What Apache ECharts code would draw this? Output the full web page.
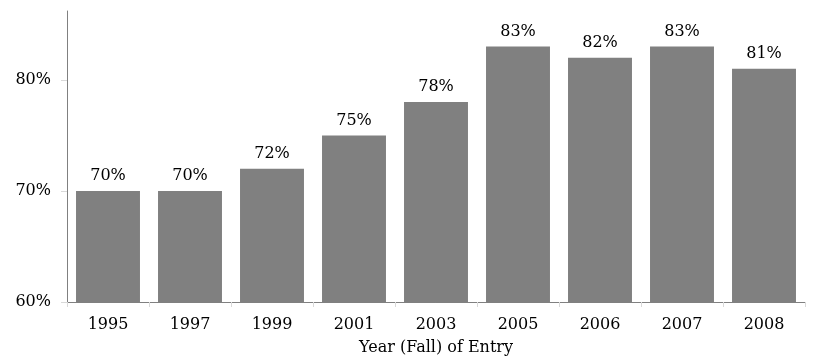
<!DOCTYPE html>
<html>
<head>
<meta charset="utf-8">
<script src="https://cdn.jsdelivr.net/npm/echarts@6/dist/echarts.min.js"></script>
<style>
	html, body { margin: 0; padding: 0; background: #fff; }
	#chart { width: 826px; height: 358px; }
</style>
</head>
<body>
<div id="chart"></div>
<script>
	var years = ['1995', '1997', '1999', '2001', '2003', '2005', '2006', '2007', '2008'];
	var rates = [70, 70, 72, 75, 78, 83, 82, 83, 81];
	var yMin = 60, yMax = 86.2, yStep = 10;

	var font = 'DejaVu Serif';
	var chart = echarts.init(document.getElementById('chart'));

	var option = {
		animation: false,
		grid: { left: 67, right: 21, top: 11, bottom: 56, outerBoundsMode: 'none' },
		xAxis: {
			type: 'category',
			data: years,
			name: 'Year (Fall) of Entry',
			nameLocation: 'middle',
			nameGap: 38,
			nameTextStyle: { fontFamily: font, fontSize: 16, color: '#000' },
			axisLine: { lineStyle: { color: '#808080' } },
			axisTick: { show: true, length: 5, lineStyle: { color: '#d9d9d9' } },
			axisLabel: { fontFamily: font, fontSize: 16, color: '#000', margin: 15 }
		},
		yAxis: {
			type: 'value',
			min: yMin,
			max: yMax,
			interval: yStep,
			splitLine: { show: false },
			axisLine: { show: true, lineStyle: { color: '#808080' } },
			axisTick: { show: true, length: 6, lineStyle: { color: '#d9d9d9' } },
			axisLabel: {
				fontFamily: font, fontSize: 16, color: '#000', margin: 16,
				showMaxLabel: false,
				formatter: function (v) { return v + '%'; }
			}
		},
		series: [{
			type: 'bar',
			data: rates,
			barCategoryGap: '22%',
			itemStyle: { color: '#808080' },
			label: {
				show: true,
				position: 'top',
				distance: 7,
				fontFamily: font,
				fontSize: 16,
				color: '#000',
				formatter: function (p) { return p.value + '%'; }
			}
		}]
	};
	chart.setOption(option);
</script>
</body>
</html>
